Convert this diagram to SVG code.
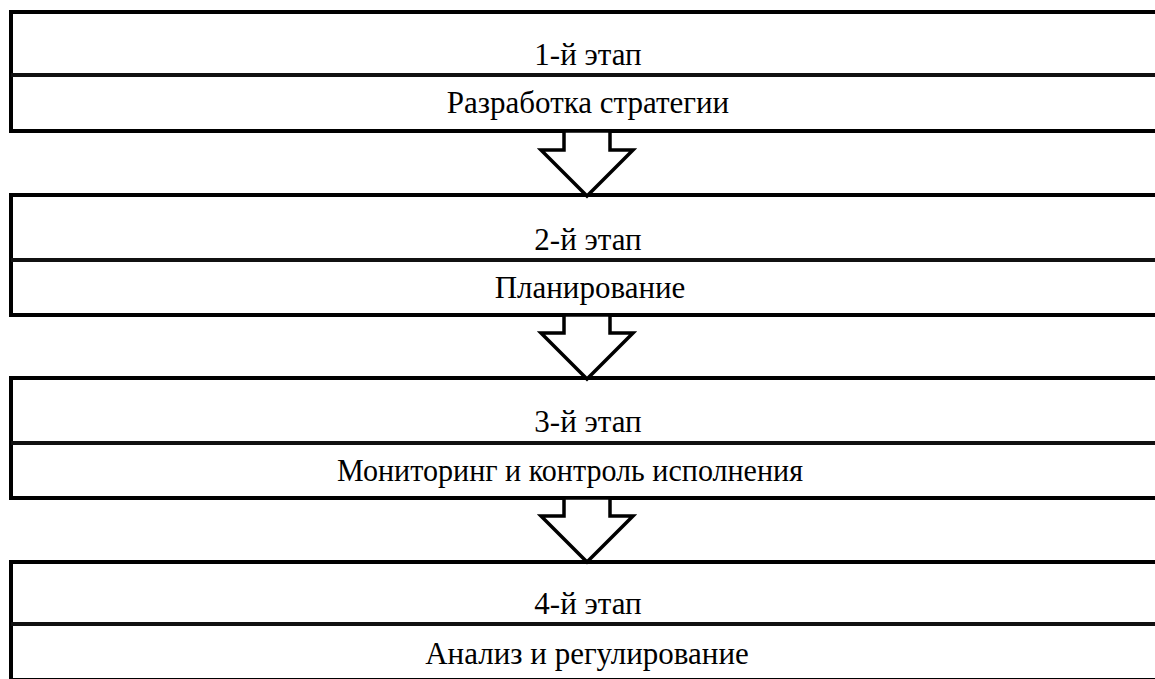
<svg xmlns="http://www.w3.org/2000/svg" width="1155" height="679" viewBox="0 0 1155 679">
<style>
.box{fill:#fff;stroke:#000;stroke-width:4}
.div{stroke:#111;stroke-width:4}
.arr{fill:#fff;stroke:#000;stroke-width:3.5;stroke-linejoin:miter}
text{font-family:"Liberation Serif","DejaVu Serif",serif;font-size:31px;fill:#000;text-anchor:middle}
</style>
<rect width="1155" height="679" fill="#fff"/>
<g id="stage1">
<rect class="box" x="11" y="12" width="1160" height="119"/>
<line class="div" x1="11" y1="75" x2="1171" y2="75"/>
<text x="588" y="65">1-й этап</text>
<text x="588" y="113">Разработка стратегии</text>
</g>
<g id="stage2">
<rect class="box" x="11" y="195" width="1160" height="120"/>
<line class="div" x1="11" y1="260" x2="1171" y2="260"/>
<text x="588" y="250">2-й этап</text>
<text x="590" y="298">Планирование</text>
</g>
<g id="stage3">
<rect class="box" x="11" y="378" width="1160" height="120"/>
<line class="div" x1="11" y1="443" x2="1171" y2="443"/>
<text x="588" y="432">3-й этап</text>
<text x="570" y="481" textLength="466" lengthAdjust="spacingAndGlyphs">Мониторинг и контроль исполнения</text>
</g>
<g id="stage4">
<rect class="box" x="11" y="562" width="1160" height="118"/>
<line class="div" x1="11" y1="624" x2="1171" y2="624"/>
<text x="588" y="614">4-й этап</text>
<text x="587" y="664">Анализ и регулирование</text>
</g>
<g id="connectors">
<path class="arr" d="M564,131 L610,131 L610,150 L633,150 L587,196 L541,150 L564,150 Z"/>
<path class="arr" d="M564,315 L610,315 L610,333 L633,333 L587,379 L541,333 L564,333 Z"/>
<path class="arr" d="M564,498 L610,498 L610,516 L633,516 L587,562 L541,516 L564,516 Z"/>
</g>
</svg>
